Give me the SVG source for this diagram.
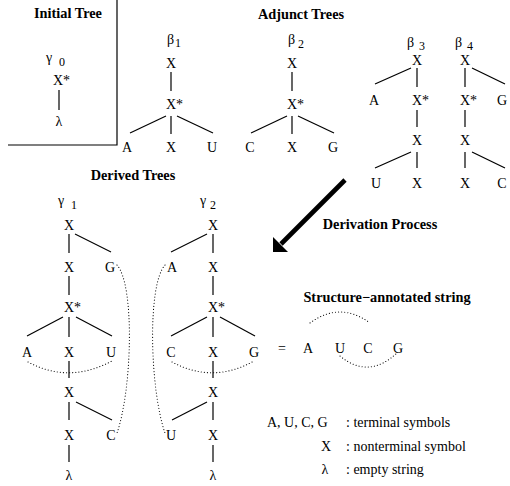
<svg xmlns="http://www.w3.org/2000/svg" width="510" height="486" viewBox="0 0 510 486">
<style>
text{font-family:"Liberation Serif","Times New Roman",serif;fill:#000}
.t{font-size:14px;text-anchor:middle}
.ts{font-size:14px}
.h{font-size:14.3px;font-weight:bold;text-anchor:middle}
.sub{font-size:12px}
.e{stroke:#000;stroke-width:1.2;fill:none}
.d{stroke:#000;stroke-width:1.1;fill:none;stroke-dasharray:0.1 3;stroke-linecap:round}
.lg{font-size:14px}
</style>
<rect width="510" height="486" fill="#fff"/>

<!-- frame of initial tree -->
<path class="e" d="M8,145 H117 V0"/>

<!-- titles -->
<text class="h" x="68" y="18">Initial Tree</text>
<text class="h" x="301" y="19">Adjunct Trees</text>
<text class="h" x="133" y="180">Derived Trees</text>
<text class="h" x="380" y="229">Derivation Process</text>
<text class="h" x="387" y="302">Structure−annotated string</text>

<g id="connectors">
  <!-- initial tree -->
  <line class="e" x1="59" y1="90" x2="59" y2="110"/>
  <!-- beta1 -->
  <line class="e" x1="171" y1="72" x2="171" y2="91"/>
  <line class="e" x1="166" y1="116" x2="130" y2="133"/>
  <line class="e" x1="171" y1="116" x2="171" y2="134"/>
  <line class="e" x1="177" y1="116" x2="213" y2="133"/>
  <!-- beta2 -->
  <line class="e" x1="292" y1="72" x2="292" y2="91"/>
  <line class="e" x1="287" y1="116" x2="251" y2="133"/>
  <line class="e" x1="292" y1="116" x2="292" y2="134"/>
  <line class="e" x1="298" y1="116" x2="334" y2="133"/>
  <!-- beta3 -->
  <line class="e" x1="411" y1="68" x2="375" y2="84"/>
  <line class="e" x1="417" y1="68" x2="417" y2="87"/>
  <line class="e" x1="417" y1="110" x2="417" y2="127"/>
  <line class="e" x1="411" y1="152" x2="375" y2="168"/>
  <line class="e" x1="417" y1="152" x2="417" y2="168"/>
  <!-- beta4 -->
  <line class="e" x1="465" y1="68" x2="465" y2="87"/>
  <line class="e" x1="472" y1="68" x2="505" y2="84"/>
  <line class="e" x1="465" y1="110" x2="465" y2="127"/>
  <line class="e" x1="465" y1="152" x2="465" y2="168"/>
  <line class="e" x1="472" y1="152" x2="505" y2="168"/>
  <!-- gamma1 -->
  <line class="e" x1="69" y1="234" x2="69" y2="253"/>
  <line class="e" x1="75" y1="234" x2="111" y2="252"/>
  <line class="e" x1="69" y1="276" x2="69" y2="295"/>
  <line class="e" x1="63" y1="317" x2="27" y2="336"/>
  <line class="e" x1="69" y1="317" x2="69" y2="337"/>
  <line class="e" x1="76" y1="317" x2="112" y2="336"/>
  <line class="e" x1="69" y1="361" x2="69" y2="378"/>
  <line class="e" x1="69" y1="402" x2="69" y2="420"/>
  <line class="e" x1="76" y1="402" x2="112" y2="420"/>
  <line class="e" x1="69" y1="445" x2="69" y2="462"/>
  <!-- gamma2 -->
  <line class="e" x1="213" y1="234" x2="213" y2="253"/>
  <line class="e" x1="207" y1="234" x2="171" y2="252"/>
  <line class="e" x1="213" y1="276" x2="213" y2="295"/>
  <line class="e" x1="207" y1="317" x2="171" y2="336"/>
  <line class="e" x1="213" y1="317" x2="213" y2="337"/>
  <line class="e" x1="220" y1="317" x2="255" y2="336"/>
  <line class="e" x1="213" y1="361" x2="213" y2="378"/>
  <line class="e" x1="213" y1="402" x2="213" y2="420"/>
  <line class="e" x1="207" y1="402" x2="172" y2="420"/>
  <line class="e" x1="213" y1="445" x2="213" y2="462"/>
  <!-- base-pair dotted arcs -->
  <path class="d" d="M117,265 C135,285 132,390 117,433"/>
  <path class="d" d="M28,362 Q69,384 112,361"/>
  <path class="d" d="M165,265 C147,285 150,390 165,433"/>
  <path class="d" d="M172,362 Q213,384 254,361"/>
  <path class="d" d="M310,323 Q340,301 370,323"/>
  <path class="d" d="M340,356 Q369,380 398,352"/>
  <!-- derivation arrow -->
  <line x1="345" y1="180" x2="281" y2="244" stroke="#000" stroke-width="4.6"/>
  <polygon points="273,252 273,237 288,252" fill="#000"/>
</g>

<!-- initial tree gamma0 -->
<g id="gamma0">
  <text class="ts" x="46" y="62">γ</text><text class="sub" x="59" y="66">0</text>
</g>
<g id="g0-Xs"><text class="ts" x="53" y="85">X*</text></g>
<g id="g0-lambda"><text class="t" x="59" y="126">λ</text></g>

<!-- beta1 -->
<g id="beta1"><text class="ts" x="167" y="44">β</text><text class="sub" x="175" y="47" font-size="11">1</text></g>
<g id="b1-X"><text class="t" x="171" y="68">X</text></g>
<g id="b1-Xs"><text class="ts" x="166" y="109">X*</text></g>
<g id="b1-A"><text class="t" x="127" y="152">A</text></g>
<g id="b1-X2"><text class="t" x="171" y="152">X</text></g>
<g id="b1-U"><text class="t" x="212" y="152">U</text></g>

<!-- beta2 -->
<g id="beta2"><text class="ts" x="288" y="44">β</text><text class="sub" x="298" y="48">2</text></g>
<g id="b2-X"><text class="t" x="292" y="68">X</text></g>
<g id="b2-Xs"><text class="ts" x="287" y="109">X*</text></g>
<g id="b2-C"><text class="t" x="250" y="152">C</text></g>
<g id="b2-X2"><text class="t" x="292" y="152">X</text></g>
<g id="b2-G"><text class="t" x="333" y="152">G</text></g>

<!-- beta3 -->
<g id="beta3"><text class="ts" x="407" y="47">β</text><text class="sub" x="419" y="50">3</text></g>
<g id="b3-X"><text class="t" x="417" y="65">X</text></g>
<g id="b3-A"><text class="t" x="374" y="105">A</text></g>
<g id="b3-Xs"><text class="ts" x="412" y="105">X*</text></g>
<g id="b3-X2"><text class="t" x="417" y="145">X</text></g>
<g id="b3-U"><text class="t" x="376" y="188">U</text></g>
<g id="b3-X3"><text class="t" x="417" y="188">X</text></g>

<!-- beta4 -->
<g id="beta4"><text class="ts" x="455" y="47">β</text><text class="sub" x="467" y="50">4</text></g>
<g id="b4-X"><text class="t" x="465" y="65">X</text></g>
<g id="b4-Xs"><text class="ts" x="460" y="105">X*</text></g>
<g id="b4-G"><text class="t" x="502" y="105">G</text></g>
<g id="b4-X2"><text class="t" x="465" y="145">X</text></g>
<g id="b4-X3"><text class="t" x="465" y="188">X</text></g>
<g id="b4-C"><text class="t" x="502" y="188">C</text></g>

<!-- gamma1 -->
<g id="gamma1"><text class="ts" x="58" y="205">γ</text><text class="sub" x="71" y="209">1</text></g>
<g id="g1-X1"><text class="t" x="69" y="230">X</text></g>
<g id="g1-X2"><text class="t" x="69" y="272">X</text></g>
<g id="g1-G"><text class="t" x="110" y="272">G</text></g>
<g id="g1-Xs"><text class="ts" x="64" y="312">X*</text></g>
<g id="g1-A"><text class="t" x="27" y="357">A</text></g>
<g id="g1-X3"><text class="t" x="69" y="357">X</text></g>
<g id="g1-U"><text class="t" x="111" y="357">U</text></g>
<g id="g1-X4"><text class="t" x="69" y="397">X</text></g>
<g id="g1-X5"><text class="t" x="69" y="440">X</text></g>
<g id="g1-C"><text class="t" x="111" y="440">C</text></g>
<g id="g1-lambda"><text class="t" x="69" y="480">λ</text></g>

<!-- gamma2 -->
<g id="gamma2"><text class="ts" x="200" y="205">γ</text><text class="sub" x="210" y="209">2</text></g>
<g id="g2-X1"><text class="t" x="213" y="230">X</text></g>
<g id="g2-A"><text class="t" x="172" y="272">A</text></g>
<g id="g2-X2"><text class="t" x="213" y="272">X</text></g>
<g id="g2-Xs"><text class="ts" x="208" y="312">X*</text></g>
<g id="g2-C"><text class="t" x="171" y="357">C</text></g>
<g id="g2-X3"><text class="t" x="213" y="357">X</text></g>
<g id="g2-G"><text class="t" x="254" y="357">G</text></g>
<g id="g2-X4"><text class="t" x="213" y="397">X</text></g>
<g id="g2-U"><text class="t" x="171" y="440">U</text></g>
<g id="g2-X5"><text class="t" x="213" y="440">X</text></g>
<g id="g2-lambda"><text class="t" x="213" y="480">λ</text></g>

<!-- structure-annotated string -->
<g id="string">
  <text class="t" x="282" y="353">=</text>
  <text class="t" x="308" y="353">A</text>
  <text class="t" x="340" y="353">U</text>
  <text class="t" x="368" y="353">C</text>
  <text class="t" x="398" y="353">G</text>
</g>

<!-- legend -->
<g id="legend">
  <text class="lg" x="267" y="427">A, U, C, G</text>
  <text class="lg" x="346" y="427">: terminal symbols</text>
  <text class="t" x="326" y="451">X</text>
  <text class="lg" x="346" y="451">: nonterminal symbol</text>
  <text class="t" x="325" y="474">λ</text>
  <text class="lg" x="346" y="474">: empty string</text>
</g>
</svg>
